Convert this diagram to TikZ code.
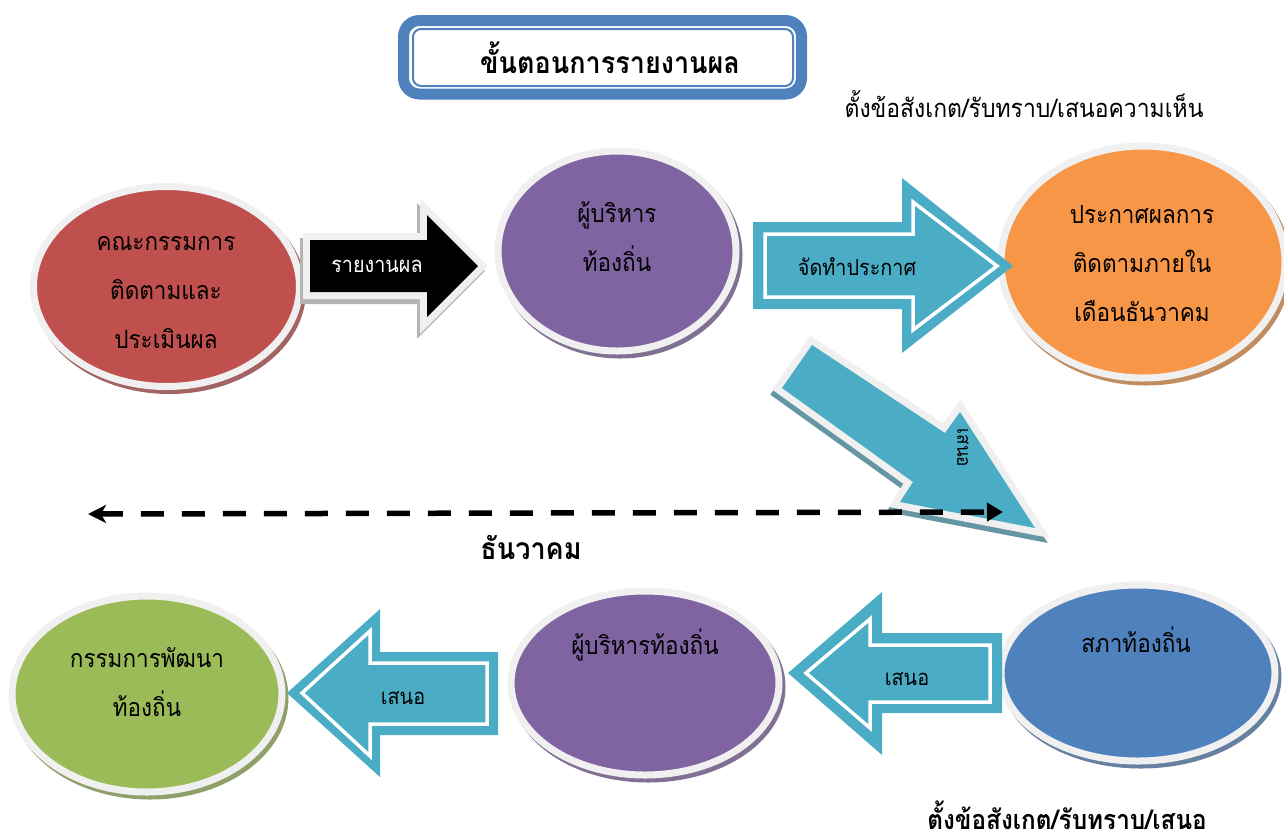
\documentclass[tikz,border=0pt]{standalone}
\usepackage{fontspec}
\setmainfont{Loma}[Script=Thai, FakeStretch=0.9]
\usetikzlibrary{shapes.geometric,arrows.meta}
\definecolor{tblue}{HTML}{4F81BD}
\definecolor{tred}{HTML}{C0504D}
\definecolor{tpurple}{HTML}{8064A2}
\definecolor{torange}{HTML}{F79646}
\definecolor{tgreen}{HTML}{9BBB59}
\definecolor{tteal}{HTML}{4BACC6}
\definecolor{tring}{HTML}{F0F0F0}
\definecolor{tshadow}{HTML}{B4B4B4}
\tikzset{
  ell/.style={ellipse, draw=tring, line width=7pt, inner sep=0pt},
  eshadow/.style={ellipse, draw=none, inner sep=0pt},
  etext/.style={align=center, font=\fontsize{25}{49}\selectfont, text=black, inner sep=0pt},
  tealarrow/.style={fill=tteal, draw=none},
  innerline/.style={draw=white, line width=3.5pt, line join=miter},
  grayrim/.style={draw=tring, fill=tring, line width=14pt, line join=miter},
  shadowrim/.style={draw=tshadow, fill=tshadow, line width=14pt, line join=miter},
  lbl/.style={font=\fontsize{22}{24}\selectfont, inner sep=0pt},
  dashline/.style={line width=5.5pt, dash pattern=on 23pt off 18pt},
}
\begin{document}
\begin{tikzpicture}[x=1pt,y=-1pt]
\useasboundingbox (0,0) rectangle (1284,839);

% ---------- title ----------
\draw[tblue, line width=11pt, rounded corners=16pt, fill=white] (403.5,20.5) rectangle (801.5,94);
\draw[tblue, line width=2pt, rounded corners=8pt] (413,29) rectangle (793,86);
\node[font=\fontsize{30}{34}\selectfont\bfseries, inner sep=0pt] (title) at (610,58) {ขั้นตอนการรายงานผล};

\node[font=\fontsize{25.5}{28}\selectfont, inner sep=0pt] (topnote) at (1024,104) {ตั้งข้อสังเกต/รับทราบ/เสนอความเห็น};

% ---------- ellipses ----------
\node[eshadow, fill=tred!55!gray, minimum width=273pt, minimum height=207pt] (s1) at (169.5,290.5) {};
\node[ell, fill=tred, minimum width=266pt, minimum height=200pt] (e1) at (166.5,286.5) {};
\node[etext] (t1) at (166,293) {คณะกรรมการ\\ติดตามและ\\ประเมินผล};

\node[eshadow, fill=tpurple!55!gray, minimum width=245pt, minimum height=207pt] (s2) at (620,255) {};
\node[ell, fill=tpurple, minimum width=238pt, minimum height=200pt] (e2) at (617,251) {};
\node[etext] (t2) at (617,237) {ผู้บริหาร\\ท้องถิ่น};

\node[eshadow, fill=torange!55!gray, minimum width=291pt, minimum height=239pt] (s3) at (1146,266) {};
\node[ell, fill=torange, minimum width=284pt, minimum height=232pt] (e3) at (1143,262) {};
\node[etext] (t3) at (1142,264) {ประกาศผลการ\\ติดตามภายใน\\เดือนธันวาคม};

\node[eshadow, fill=tgreen!55!gray, minimum width=277pt, minimum height=203pt] (s4) at (150,698) {};
\node[ell, fill=tgreen, minimum width=270pt, minimum height=196pt] (e4) at (147,694) {};
\node[etext] (t4) at (147,682) {กรรมการพัฒนา\\ท้องถิ่น};

\node[eshadow, fill=tpurple!55!gray, minimum width=275pt, minimum height=191pt] (s5) at (648,687) {};
\node[ell, fill=tpurple, minimum width=268pt, minimum height=184pt] (e5) at (645,683) {};
\node[etext] (t5) at (645,645) {ผู้บริหารท้องถิ่น};

\node[eshadow, fill=tblue!55!gray, minimum width=281pt, minimum height=183pt] (s6) at (1141,677) {};
\node[ell, fill=tblue, minimum width=274pt, minimum height=176pt] (e6) at (1138,673) {};
\node[etext] (t6) at (1136,640) {สภาท้องถิ่น};

% ---------- black arrow ----------
\path[shadowrim] (307,245) -- (424,245) -- (424,220) -- (475,271) -- (424,322) -- (424,297) -- (307,297) -- cycle;
\path[grayrim] (310,240) -- (427,240) -- (427,215) -- (478,266) -- (427,317) -- (427,292) -- (310,292) -- cycle;
\path[fill=black] (310,240) -- (427,240) -- (427,215) -- (478,266) -- (427,317) -- (427,292) -- (310,292) -- cycle;
\node[lbl, text=white] (la) at (377,266) {รายงานผล};

% ---------- teal arrow right ----------
\path[tealarrow] (753,222) -- (902,222) -- (902,178) -- (1013,266) -- (902,353) -- (902,309) -- (753,309) -- cycle;
\path[innerline] (765,234) -- (913,234) -- (913,202) -- (997,266) -- (913,330) -- (913,297) -- (765,297) -- cycle;
\node[lbl] (lb) at (857,267) {จัดทำประกาศ};

% ---------- diagonal arrow ----------
\path[shadowrim, draw=tteal!50!gray, fill=tteal!50!gray] (780,393) -- (810,350) -- (943,438) -- (958,417) -- (1033,533) -- (898,507) -- (911,487) -- cycle;
\path[grayrim] (782,388) -- (812,345) -- (945,433) -- (960,412) -- (1035,528) -- (900,502) -- (913,482) -- cycle;
\path[tealarrow] (782,388) -- (812,345) -- (945,433) -- (960,412) -- (1035,528) -- (900,502) -- (913,482) -- cycle;
\node[lbl, font=\fontsize{19}{22}\selectfont, rotate=-90] (lc) at (963,448) {เสนอ};

% ---------- dashed arrow ----------
\coordinate (dR) at (1003,512);
\coordinate (dL) at (88,514);
\draw[dashline, {Stealth[length=18pt,width=18pt,inset=5pt]}-{Triangle[length=16pt,width=18pt]}] (dL) -- (dR);
\node[font=\fontsize{30}{32}\selectfont\bfseries, inner sep=0pt] (dec) at (531,547) {ธันวาคม};

% ---------- bottom middle arrow ----------
\path[tealarrow] (788,673) -- (882,592) -- (882,633) -- (1002,633) -- (1002,713) -- (882,713) -- (882,755) -- cycle;
\path[innerline] (806,673) -- (870,619) -- (870,645) -- (990,645) -- (990,702) -- (870,702) -- (870,728) -- cycle;
\node[lbl] (ld) at (907,679) {เสนอ};

% ---------- bottom left arrow ----------
\path[tealarrow] (287,693) -- (380,609) -- (380,652) -- (498,652) -- (498,735) -- (380,735) -- (380,777) -- cycle;
\path[innerline] (302,693) -- (370,631) -- (370,663) -- (487,663) -- (487,724) -- (370,724) -- (370,756) -- cycle;
\node[lbl] (le) at (403,698) {เสนอ};

\node[font=\fontsize{27}{30}\selectfont\bfseries, inner sep=0pt] (botnote) at (1067,815) {ตั้งข้อสังเกต/รับทราบ/เสนอ};
\end{tikzpicture}
\end{document}
